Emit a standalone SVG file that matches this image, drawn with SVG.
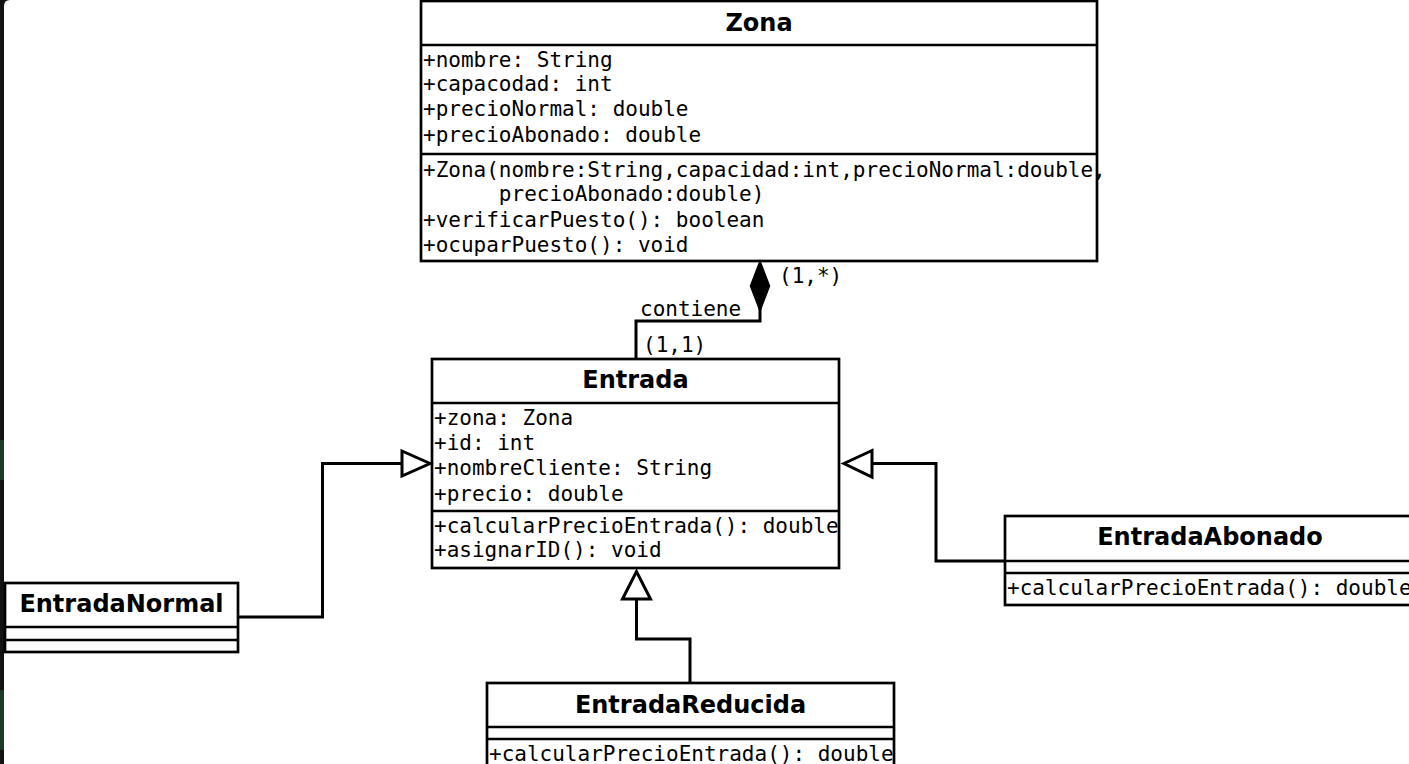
<svg xmlns="http://www.w3.org/2000/svg" width="1409" height="764" viewBox="0 0 1409 764">
<defs>
<style>
.box{fill:#fff;stroke:#000;stroke-width:2.7}
.sep{stroke:#000;stroke-width:2.7;fill:none}
.title{font-family:"DejaVu Sans",Verdana,sans-serif;font-weight:bold;font-size:24px;fill:#000;text-anchor:middle}
.mono{font-family:"DejaVu Sans Mono","Liberation Mono",monospace;font-size:21px;fill:#000;white-space:pre}
.conn{fill:none;stroke:#000;stroke-width:3}
.tri{fill:#fff;stroke:#000;stroke-width:3;stroke-linejoin:miter}
</style>
</defs>
<rect x="0" y="0" width="1409" height="764" fill="#121212"/>
<rect x="0" y="440" width="4" height="40" fill="#1d3a24"/>
<rect x="0" y="690" width="4" height="60" fill="#1d3a24"/>
<path d="M4,6 Q4,0 10,0 H1409 V764 H4 Z" fill="#fff"/>

<g id="Zona">
<rect class="box" x="421" y="1" width="676" height="260"/>
<line class="sep" x1="421" y1="45" x2="1097" y2="45"/>
<line class="sep" x1="421" y1="154" x2="1097" y2="154"/>
<text class="title" x="759" y="31">Zona</text>
<text class="mono" x="423" y="67">+nombre: String</text>
<text class="mono" x="423" y="91">+capacodad: int</text>
<text class="mono" x="423" y="116">+precioNormal: double</text>
<text class="mono" x="423" y="142">+precioAbonado: double</text>
<text class="mono" x="423" y="177">+Zona(nombre:String,capacidad:int,precioNormal:double,</text>
<text class="mono" x="423" y="201">      precioAbonado:double)</text>
<text class="mono" x="423" y="227">+verificarPuesto(): boolean</text>
<text class="mono" x="423" y="252">+ocuparPuesto(): void</text>
</g>

<g id="Entrada">
<rect class="box" x="432" y="359" width="407" height="209"/>
<line class="sep" x1="432" y1="403" x2="839" y2="403"/>
<line class="sep" x1="432" y1="511" x2="839" y2="511"/>
<text class="title" x="635.5" y="388">Entrada</text>
<text class="mono" x="434" y="425">+zona: Zona</text>
<text class="mono" x="434" y="450">+id: int</text>
<text class="mono" x="434" y="475">+nombreCliente: String</text>
<text class="mono" x="434" y="501">+precio: double</text>
<text class="mono" x="434" y="533">+calcularPrecioEntrada(): double</text>
<text class="mono" x="434" y="557">+asignarID(): void</text>
</g>

<g id="EntradaNormal">
<rect class="box" x="5" y="583" width="233" height="69"/>
<line class="sep" x1="5" y1="627" x2="238" y2="627"/>
<line class="sep" x1="5" y1="640" x2="238" y2="640"/>
<text class="title" x="121.5" y="612">EntradaNormal</text>
</g>

<g id="EntradaAbonado">
<rect class="box" x="1005" y="516" width="410" height="89"/>
<line class="sep" x1="1005" y1="561" x2="1415" y2="561"/>
<line class="sep" x1="1005" y1="573" x2="1415" y2="573"/>
<text class="title" x="1210" y="545">EntradaAbonado</text>
<text class="mono" x="1007" y="595">+calcularPrecioEntrada(): double</text>
</g>

<g id="EntradaReducida">
<rect class="box" x="487" y="683" width="407" height="100"/>
<line class="sep" x1="487" y1="727" x2="894" y2="727"/>
<line class="sep" x1="487" y1="739" x2="894" y2="739"/>
<text class="title" x="690.5" y="713">EntradaReducida</text>
<text class="mono" x="489" y="761">+calcularPrecioEntrada(): double</text>
</g>

<g id="connectors">
<path class="conn" d="M636,359 V321 H760 V305"/>
<polygon points="760,261 769.5,286 760,311 750.5,286" fill="#000" stroke="#000" stroke-width="1.5"/>
<text class="mono" x="779" y="283">(1,*)</text>
<text class="mono" x="640" y="316">contiene</text>
<text class="mono" x="643" y="352">(1,1)</text>

<path class="conn" d="M238,617 H322.5 V463.5 H402"/>
<polygon class="tri" points="402,451 430,463.5 402,476"/>

<path class="conn" d="M1005,561 H936 V463.5 H872"/>
<polygon class="tri" points="872,450.5 844,463.5 872,477"/>

<path class="conn" d="M690,683 V639 H636.5 V599"/>
<polygon class="tri" points="622.5,599 636.5,571.5 650.5,599"/>
</g>
</svg>
